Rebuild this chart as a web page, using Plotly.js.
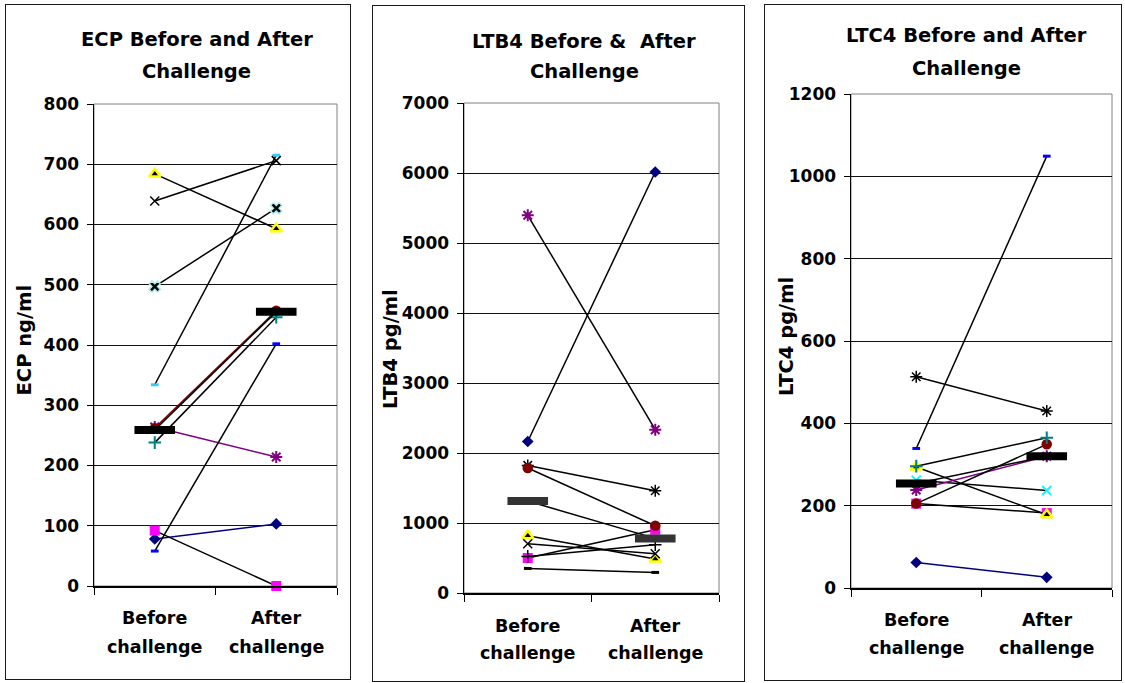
<!DOCTYPE html>
<html><head><meta charset="utf-8">
<script src="https://cdn.plot.ly/plotly-3.0.1.min.js"></script>
<style>
html,body{margin:0;padding:0;background:#fff;}
body{width:1125px;height:683px;overflow:hidden;position:relative;}
.box{position:absolute;border:1.5px solid #1a1a1a;box-sizing:border-box;}
.plot{position:absolute;}
</style></head><body>
<div class="box" id="box1"></div><div class="plot" id="p1"></div>
<div class="box" id="box2"></div><div class="plot" id="p2"></div>
<div class="box" id="box3"></div><div class="plot" id="p3"></div>
<script>
// ---------- DATA ----------
const categories = ['Before challenge', 'After challenge'];

// ECP (ng/ml)
const ecpTitle = ['ECP Before and After', 'Challenge'];
const ecpAxisTitle = 'ECP ng/ml';
const ecpNavyDiamond = [78, 103];
const ecpMagentaSquare = [92, 0];
const ecpYellowTriangle = [684, 593];
const ecpCyanX = [497, 627];
const ecpPurpleStar = [264, 214];
const ecpRedCircle = [262, 457];
const ecpTealPlus = [238, 446];
const ecpBlueDash = [58, 402];
const ecpCyanDash = [334, 715];
const ecpBlackX = [639, 706];
const ecpMean = [259, 455];

// LTB4 (pg/ml)
const ltb4Title = ['LTB4 Before &\u00a0 After', 'Challenge'];
const ltb4AxisTitle = 'LTB4 pg/ml';
const ltb4NavyDiamond = [2164, 6014];
const ltb4PurpleStar = [5396, 2333];
const ltb4BlackAsterisk = [1823, 1461];
const ltb4MagentaSquare = [500, 904];
const ltb4RedCircle = [1786, 961];
const ltb4YellowTriangle = [819, 486];
const ltb4BlackX = [704, 561];
const ltb4BlackPlus = [523, 690];
const ltb4BlackDash = [351, 294];
const ltb4Mean = [1313, 780];

// LTC4 (pg/ml)
const ltc4Title = ['LTC4 Before and After', 'Challenge'];
const ltc4AxisTitle = 'LTC4 pg/ml';
const ltc4NavyDiamond = [62, 26];
const ltc4MagentaSquare = [205, 182];
const ltc4YellowTriangle = [294, 178];
const ltc4CyanX = [262, 237];
const ltc4PurpleStar = [238, 320];
const ltc4RedCircle = [205, 349];
const ltc4TealPlus = [296, 365];
const ltc4BlueDash = [339, 1049];
const ltc4BlackAsterisk = [513, 430];
const ltc4Mean = [254, 320];

// ---------- STYLES ----------
const FONT = 'DejaVu Sans';
const M = {
  navyDiamond: {symbol:'diamond', size:9, color:'#000080'},
  magentaSquare: {symbol:'square', size:10, color:'#FF00FF'},
  yellowTriangle: {symbol:'triangle-up', size:10, color:'#000000', line:{color:'#FFFF00', width:2.5}},
  cyanXHalo: {symbol:'x', size:10, color:'#000000', line:{color:'#B0F0F0', width:1.5}},
  cyanX: {symbol:'x-thin-open', size:9, color:'#00FFFF', line:{color:'#00FFFF', width:2}},
  purpleStar: {symbol:'asterisk-open', size:10, color:'#800080', line:{color:'#800080', width:2}},
  redCircle: {symbol:'circle', size:10.5, color:'#800000'},
  tealPlus: {symbol:'cross-thin-open', size:9, color:'#008080', line:{color:'#008080', width:2}},
  blueDash: {symbol:'line-ew-open', size:5.5, color:'#0000FF', line:{color:'#0000FF', width:3}},
  cyanDash: {symbol:'line-ew-open', size:5.5, color:'#33CCFF', line:{color:'#33CCFF', width:3}},
  blackX: {symbol:'x-thin-open', size:9, color:'#000000', line:{color:'#000000', width:1.5}},
  blackAsterisk: {symbol:'asterisk-open', size:10, color:'#000000', line:{color:'#000000', width:1.5}},
  blackPlus: {symbol:'cross-thin-open', size:9, color:'#000000', line:{color:'#000000', width:1.5}},
  blackDash: {symbol:'line-ew-open', size:5.5, color:'#000000', line:{color:'#000000', width:3}},
  meanBlack: {symbol:'line-ew-open', size:29, color:'#000000', line:{color:'#000000', width:8}},
  meanGray: {symbol:'line-ew-open', size:29, color:'#333333', line:{color:'#333333', width:8}}
};

function tr(y, marker, lineColor) {
  return {x: categories, y: y, type: 'scatter', mode: 'lines+markers',
          line: {color: lineColor || '#000000', width: 1.5},
          marker: marker, cliponaxis: false, hoverinfo: 'skip'};
}

// ---------- PANEL BUILDER ----------
function panel(id, boxId, g, ymax, dtick, traces, txt) {
  const box = document.getElementById(boxId);
  box.style.left = g.L + 'px'; box.style.top = g.T + 'px';
  box.style.width = g.W + 'px'; box.style.height = g.H + 'px';
  const d = document.getElementById(id);
  d.style.left = g.L + 'px'; d.style.top = g.T + 'px';
  d.style.width = g.W + 'px'; d.style.height = g.H + 'px';
  const px = x => (x - g.pl) / (g.pr - g.pl);
  const py = y => (g.pb - y) / (g.pb - g.pt);
  const ann = [];
  txt.title.forEach((t, i) => ann.push({text: t, xref:'paper', yref:'paper', x: px(g.titleX), y: py(g.titleY[i]),
      xanchor:'center', yanchor:'middle', showarrow:false, font:{family:FONT, size:19.5, weight:700, color:'#000'}}));
  ann.push({text: txt.axis, xref:'paper', yref:'paper', x: px(g.axX), y: py(g.axY), textangle:-90,
      xanchor:'center', yanchor:'middle', showarrow:false, font:{family:FONT, size:19.5, weight:700, color:'#000'}});
  categories.forEach(c => {
    c.split(' ').forEach((w, i) => ann.push({text: w, xref:'x', yref:'paper', x: c, y: py(g.catY[i]),
      xanchor:'center', yanchor:'middle', showarrow:false, font:{family:FONT, size:17.5, weight:700, color:'#000'}}));
  });
  const layout = {
    width: g.W, height: g.H,
    margin: {l: g.pl - g.L, r: g.L + g.W - g.pr, t: g.pt - g.T, b: g.T + g.H - g.pb, pad: 0},
    paper_bgcolor: 'rgba(0,0,0,0)', plot_bgcolor: '#ffffff', showlegend: false,
    font: {family: FONT, color: '#000'},
    xaxis: {type:'category', categoryorder:'array', categoryarray: categories, range:[-0.5, 1.5],
      showgrid:false, zeroline:false, showline:true, linecolor:'#000', linewidth:1.5,
      ticks:'outside', tickson:'boundaries', ticklen:7, tickcolor:'#000', tickwidth:1, showticklabels:false, fixedrange:true},
    yaxis: {range:[0, ymax], tick0:0, dtick:dtick, showgrid:true, gridcolor:'#111', gridwidth:1,
      zeroline:false, showline:true, linecolor:'#000', linewidth:1.5, ticks:'outside', ticklen:6,
      tickcolor:'#000', tickwidth:1, ticklabelstandoff:4,
      tickfont:{family:FONT, size:17, weight:700, color:'#000'}, fixedrange:true},
    shapes: [{type:'rect', xref:'paper', yref:'paper', x0:0, x1:1, y0:0, y1:1,
      line:{color:'#808080', width:1}, layer:'below'}],
    annotations: ann
  };
  Plotly.newPlot(id, traces, layout, {staticPlot:true, displayModeBar:false});
}

// ---------- PANELS ----------
panel('p1', 'box1',
  {L:5, T:4, W:346, H:676, pl:94, pr:337, pt:104, pb:586,
   titleX:196.5, titleY:[39.7, 71.3], axX:23.5, axY:340, catY:[618, 647]},
  800, 100,
  [tr(ecpNavyDiamond, M.navyDiamond, '#000080'),
   tr(ecpMagentaSquare, M.magentaSquare),
   tr(ecpYellowTriangle, M.yellowTriangle),
   tr(ecpCyanX, M.cyanXHalo),
   tr(ecpPurpleStar, M.purpleStar, '#800080'),
   tr(ecpRedCircle, M.redCircle, '#800000'),
   tr(ecpTealPlus, M.tealPlus),
   tr(ecpBlueDash, M.blueDash),
   tr(ecpCyanDash, M.cyanDash),
   tr(ecpBlackX, M.blackX),
   tr(ecpMean, M.meanBlack)],
  {title: ecpTitle, axis: ecpAxisTitle});

panel('p2', 'box2',
  {L:372, T:5, W:373, H:677, pl:464, pr:719, pt:103, pb:593,
   titleX:584, titleY:[41, 71], axX:390, axY:349, catY:[625.5, 652.7]},
  7000, 1000,
  [tr(ltb4NavyDiamond, M.navyDiamond),
   tr(ltb4PurpleStar, M.purpleStar),
   tr(ltb4BlackAsterisk, M.blackAsterisk),
   tr(ltb4MagentaSquare, M.magentaSquare),
   tr(ltb4RedCircle, M.redCircle),
   tr(ltb4YellowTriangle, M.yellowTriangle),
   tr(ltb4BlackX, M.blackX),
   tr(ltb4BlackPlus, M.blackPlus),
   tr(ltb4BlackDash, M.blackDash),
   tr(ltb4Mean, M.meanGray)],
  {title: ltb4Title, axis: ltb4AxisTitle});

panel('p3', 'box3',
  {L:764, T:4, W:358, H:677, pl:851, pr:1112, pt:94, pb:588,
   titleX:966, titleY:[36, 68.3], axX:786, axY:337, catY:[620, 648]},
  1200, 200,
  [tr(ltc4NavyDiamond, M.navyDiamond, '#000080'),
   tr(ltc4MagentaSquare, M.magentaSquare),
   tr(ltc4YellowTriangle, M.yellowTriangle),
   tr(ltc4CyanX, M.cyanX),
   tr(ltc4PurpleStar, M.purpleStar, '#800080'),
   tr(ltc4RedCircle, M.redCircle),
   tr(ltc4TealPlus, M.tealPlus),
   tr(ltc4BlueDash, M.blueDash),
   tr(ltc4BlackAsterisk, M.blackAsterisk),
   tr(ltc4Mean, M.meanBlack)],
  {title: ltc4Title, axis: ltc4AxisTitle});
</script>
</body></html>
